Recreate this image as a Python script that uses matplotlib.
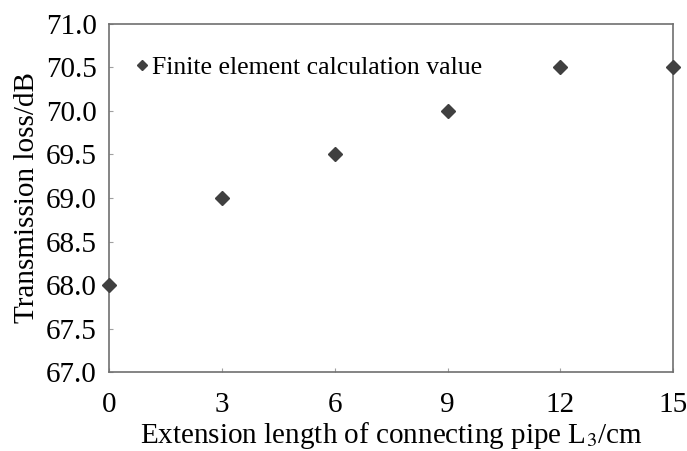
import matplotlib
matplotlib.use('Agg')
import matplotlib.pyplot as plt

plt.rcParams['font.family'] = ['Liberation Serif', 'DejaVu Serif']
plt.rcParams['mathtext.fontset'] = 'stix'

length = [0, 3, 6, 9, 12, 15]
loss = [68.0, 69.0, 69.5, 70.0, 70.5, 70.5]

fig = plt.figure(figsize=(6.87, 4.51), dpi=100)
ax = fig.add_axes([0.159, 0.175, 0.821, 0.772])

ax.plot(length, loss, linestyle='none', marker='D', markersize=7,
        color='#404040', label='Finite element calculation value', clip_on=False, zorder=5)

ax.set_xlim(0, 15)
ax.set_ylim(67.0, 71.0)
ax.set_xticks(length)
ax.set_yticks([67.0 + 0.5 * i for i in range(9)])
ax.set_yticklabels(['%.1f' % (67.0 + 0.5 * i) for i in range(9)])

for s in ax.spines.values():
    s.set_color('#707070')
    s.set_linewidth(1.2)
ax.tick_params(direction='in', length=3, color='#a0a0a0', labelsize=21)
ax.tick_params(axis='y', pad=9)
ax.tick_params(axis='x', pad=14)

ax.set_xlabel('Extension length of connecting pipe L$_3$/cm', fontsize=21, labelpad=2)
ax.set_ylabel('Transmission loss/dB', fontsize=21, labelpad=4)

ax.legend(loc='upper left', frameon=False, fontsize=18.5, handletextpad=0.0,
          handlelength=0.8, markerscale=0.75, bbox_to_anchor=(0.008, 0.96),
          borderaxespad=0.3)

fig.savefig('out.png', dpi=100)
